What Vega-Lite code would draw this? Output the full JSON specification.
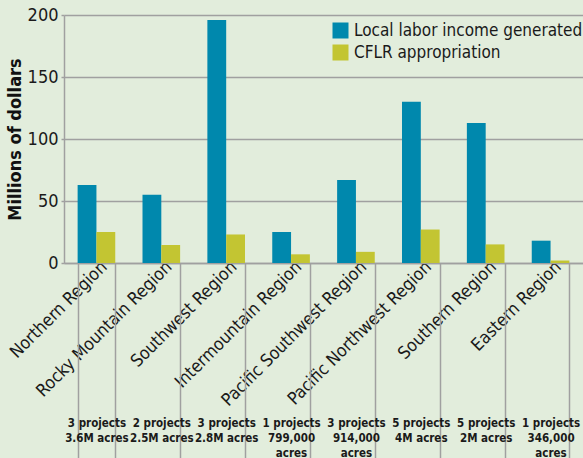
{
  "$schema": "https://vega.github.io/schema/vega-lite/v6.json",
  "width": 519,
  "height": 248,
  "autosize": {"type": "none"},
  "padding": {"left": 64, "top": 15, "right": 0, "bottom": 195},
  "background": "#e2eddc",
  "config": {
    "view": {"stroke": null},
    "font": "DejaVu Sans Condensed, Roboto Condensed, Liberation Sans Narrow, sans-serif"
  },
  "data": {
    "values": [
      {"region": "Northern Region|3 projects|3.6M acres", "series": "Local labor income generated", "value": 63},
      {"region": "Northern Region|3 projects|3.6M acres", "series": "CFLR appropriation", "value": 25},
      {"region": "Rocky Mountain Region|2 projects|2.5M acres", "series": "Local labor income generated", "value": 55},
      {"region": "Rocky Mountain Region|2 projects|2.5M acres", "series": "CFLR appropriation", "value": 14.5},
      {"region": "Southwest Region|3 projects|2.8M acres", "series": "Local labor income generated", "value": 196},
      {"region": "Southwest Region|3 projects|2.8M acres", "series": "CFLR appropriation", "value": 23},
      {"region": "Intermountain Region|1 projects|799,000|acres", "series": "Local labor income generated", "value": 25},
      {"region": "Intermountain Region|1 projects|799,000|acres", "series": "CFLR appropriation", "value": 7},
      {"region": "Pacific Southwest Region|3 projects|914,000|acres", "series": "Local labor income generated", "value": 67},
      {"region": "Pacific Southwest Region|3 projects|914,000|acres", "series": "CFLR appropriation", "value": 9},
      {"region": "Pacific Northwest Region|5 projects|4M acres", "series": "Local labor income generated", "value": 130},
      {"region": "Pacific Northwest Region|5 projects|4M acres", "series": "CFLR appropriation", "value": 27},
      {"region": "Southern Region|5 projects|2M acres", "series": "Local labor income generated", "value": 113},
      {"region": "Southern Region|5 projects|2M acres", "series": "CFLR appropriation", "value": 15},
      {"region": "Eastern Region|1 projects|346,000|acres", "series": "Local labor income generated", "value": 18},
      {"region": "Eastern Region|1 projects|346,000|acres", "series": "CFLR appropriation", "value": 2}
    ]
  },
  "resolve": {"axis": {"x": "independent"}},
  "layer": [
    {
      "mark": {"type": "bar"},
      "encoding": {
        "x": {
          "field": "region", "type": "nominal", "sort": null,
          "scale": {"paddingInner": 0.42, "paddingOuter": 0.21},
          "axis": {
            "orient": "bottom", "title": null, "labelAngle": -45, "labelAlign": "right", "labelBaseline": "middle",
            "labelPadding": 1, "labelOffset": 8, "labelFontSize": 17.5, "labelColor": "#1a1a1a", "ticks": false,
            "domain": true, "domainColor": "#a0a0a0", "domainWidth": 1.5, "grid": false,
            "labelExpr": "split(datum.value, '|')[0]", "labelLimit": 0, "labelOverlap": false, "labelBound": false
          }
        },
        "xOffset": {"field": "series", "type": "nominal", "sort": ["Local labor income generated", "CFLR appropriation"], "scale": {"paddingInner": 0, "paddingOuter": 0}},
        "y": {
          "field": "value", "type": "quantitative",
          "scale": {"domain": [0, 200], "nice": false},
          "axis": {
            "title": "Millions of dollars", "titleFontSize": 18, "titleFontWeight": "bold", "titleColor": "#111",
            "labelFontSize": 18, "labelColor": "#1a1a1a", "values": [0, 50, 100, 150, 200],
            "grid": true, "gridColor": "#a0a0a0", "gridWidth": 1.5, "tickColor": "#a0a0a0", "tickWidth": 1.5, "tickSize": 3,
            "domainColor": "#a0a0a0", "domainWidth": 1.5, "labelPadding": 3, "titlePadding": 3
          }
        },
        "color": {
          "field": "series", "type": "nominal",
          "sort": ["Local labor income generated", "CFLR appropriation"],
          "scale": {"domain": ["Local labor income generated", "CFLR appropriation"], "range": ["#0088ad", "#c3c532"]},
          "legend": {
            "orient": "none", "legendX": 268, "legendY": 7, "title": null, "symbolType": "square", "symbolSize": 256,
            "symbolStrokeWidth": 0, "labelFontSize": 17, "labelColor": "#1a1a1a", "rowPadding": 4, "labelOffset": 5, "labelLimit": 0
          }
        }
      }
    },
    {
      "mark": {"type": "point", "opacity": 0},
      "encoding": {
        "x": {
          "field": "region", "type": "nominal", "sort": null,
          "axis": {
            "orient": "bottom", "title": null, "labelAngle": 0, "labelAlign": "center", "labelBaseline": "top",
            "labelFontSize": 11.5, "labelFontWeight": "bold", "labelColor": "#1a1a1a", "labelLineHeight": 15,
            "ticks": true, "tickBand": "extent", "tickSize": 195, "tickColor": "#a0a0a0", "tickWidth": 1.5,
            "labelPadding": -41, "domain": false, "grid": false,
            "labelExpr": "slice(split(datum.value, '|'), 1)", "labelLimit": 0, "labelOverlap": false, "labelBound": false
          }
        }
      }
    }
  ]
}
